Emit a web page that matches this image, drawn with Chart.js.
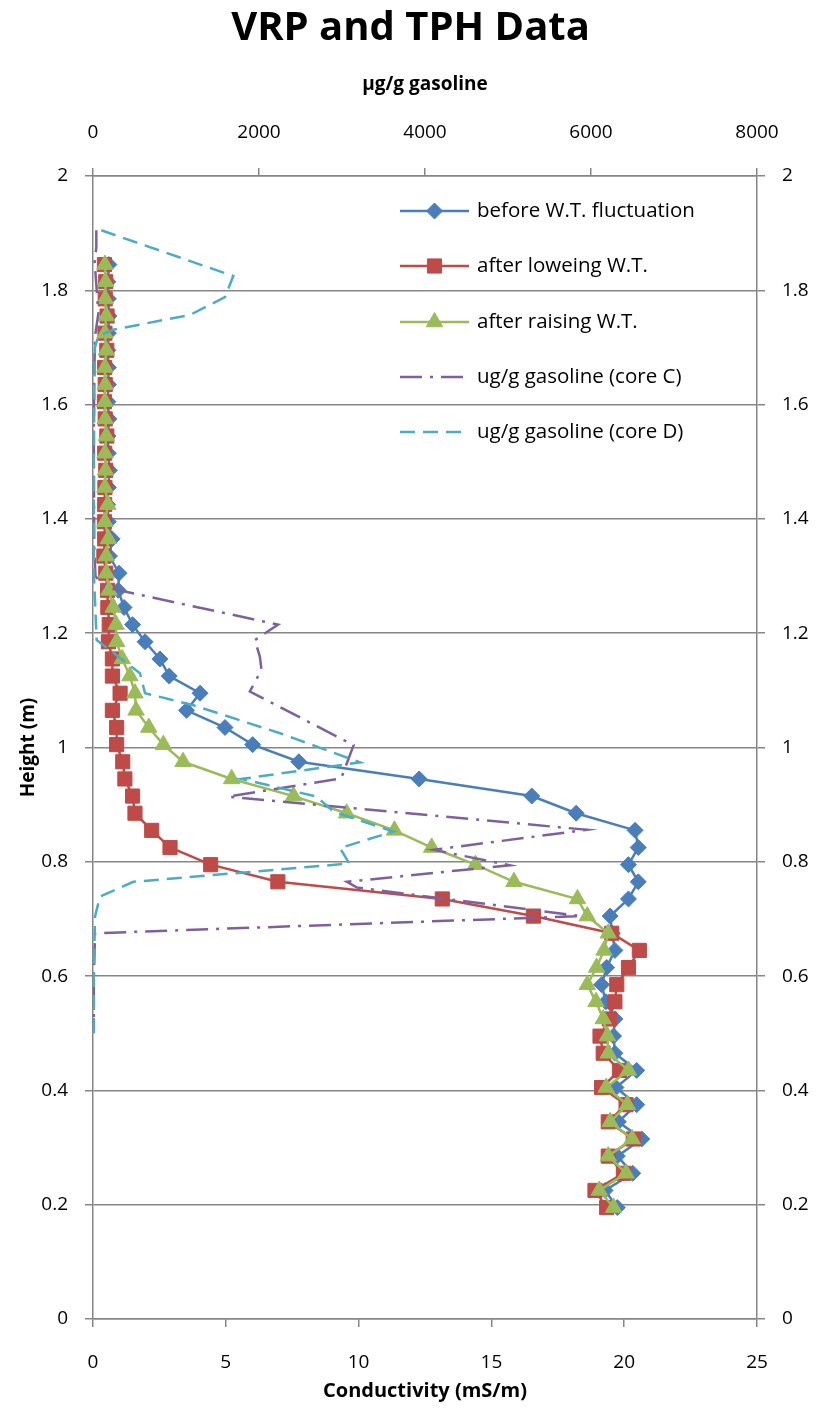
<!DOCTYPE html>
<html>
<head>
<meta charset="utf-8">
<script src="https://cdn.jsdelivr.net/npm/chart.js@4.4.1/dist/chart.umd.min.js"></script>
<style>
html,body{margin:0;padding:0;background:#fff;}
#wrap{width:821px;height:1410px;position:relative;}
canvas{display:block;}
</style>
</head>
<body>
<div id="wrap"><canvas id="c" width="821" height="1410" style="width:821px;height:1410px"></canvas></div>
<script>
// ---- data ----
const heights = [0.195,0.225,0.255,0.285,0.315,0.345,0.375,0.405,0.435,0.465,0.495,
  0.525,0.555,0.585,0.615,0.645,0.675,0.705,0.735,0.765,0.795,
  0.825,0.855,0.885,0.915,0.945,0.975,1.005,1.035,1.065,1.095,
  1.125,1.155,1.185,1.215,1.245,1.275,1.305,1.335,1.365,1.395,
  1.425,1.455,1.485,1.515,1.545,1.575,1.605,1.635,1.665,1.695,
  1.725,1.755,1.785,1.815,1.845];

const beforeFluct = [19.74,19.28,20.32,19.74,20.66,19.78,20.47,19.69,20.47,19.65,19.6,
  19.65,19.31,19.15,19.34,19.65,19.55,19.47,20.16,20.53,20.16,
  20.53,20.41,18.19,16.52,12.28,7.75,6.01,4.97,3.52,4.03,
  2.87,2.52,1.96,1.49,1.17,0.95,0.98,0.62,0.72,0.58,
  0.55,0.58,0.62,0.58,0.56,0.6,0.56,0.58,0.58,0.56,
  0.58,0.6,0.58,0.56,0.6];

const afterLowering = [19.34,18.9,19.97,19.4,20.34,19.4,20.07,19.15,19.82,19.21,19.09,
  19.44,19.65,19.72,20.16,20.57,19.53,16.58,13.15,6.96,4.43,
  2.9,2.21,1.58,1.49,1.2,1.12,0.89,0.89,0.73,1.02,
  0.73,0.73,0.58,0.61,0.56,0.55,0.48,0.41,0.44,0.43,
  0.44,0.45,0.48,0.44,0.52,0.46,0.43,0.46,0.44,0.52,
  0.45,0.53,0.46,0.48,0.43];

const afterRaising = [19.6,19.06,20.07,19.4,20.3,19.47,20.12,19.32,20.16,19.4,19.37,
  19.21,18.94,18.61,18.96,19.24,19.4,18.61,18.24,15.85,14.4,
  12.75,11.35,9.55,7.55,5.22,3.39,2.65,2.1,1.62,1.58,
  1.39,1.1,0.89,0.87,0.76,0.6,0.5,0.5,0.58,0.45,
  0.56,0.45,0.47,0.45,0.5,0.46,0.45,0.46,0.45,0.5,
  0.45,0.5,0.46,0.47,0.45];

const coreCHeight = [1.905,1.875,1.85,1.80,1.76,1.72,1.65,1.55,1.45,1.35,1.30,1.281,1.215,1.188,1.159,1.136,1.098,1.004,0.946,0.914,0.856,0.821,0.794,0.765,0.755,0.705,0.675,0.60,0.50];
const coreCValue  = [40,40,20,45,65,25,15,10,12,15,30,125,2230,1950,2010,2030,1890,3140,2990,1630,5950,4100,5020,3060,3180,5880,25,10,10];

const coreDHeight = [1.905,1.825,1.788,1.757,1.731,1.72,1.70,1.60,1.50,1.40,1.30,1.188,1.13,1.095,1.074,1.025,0.974,0.945,0.914,0.888,0.853,0.824,0.797,0.765,0.739,0.704,0.60,0.50];
const coreDValue  = [100,1690,1590,1170,245,64,24,15,10,10,12,44,566,627,1209,2253,3217,1790,2695,2896,3618,2976,3088,486,84,24,10,10];

const heightTicks = [0,0.2,0.4,0.6,0.8,1,1.2,1.4,1.6,1.8,2];
const condTicks = [0,5,10,15,20,25];
const gasTicks = [0,2000,4000,6000,8000];

const legendLabels = ['before W.T. fluctuation','after loweing W.T.','after raising W.T.','ug/g gasoline (core C)','ug/g gasoline (core D)'];

// ---- styles ----
const FONT = "'Open Sans', 'Noto Sans', sans-serif";
const GRID = '#868686';
const BLUE = '#4A7EBB', RED = '#BE4B48', GREEN = '#9BBB59', PURPLE = '#7D60A0', CYAN = '#4BACC6';
const DASH_C = [22, 8, 3, 8];
const DASH_D = [15, 8];

const pts = (xs, ys) => xs.map((v, i) => ({x: v, y: ys[i]}));

const datasets = [
  {label: legendLabels[0], data: pts(beforeFluct, heights), borderColor: BLUE, backgroundColor: BLUE,
   borderWidth: 2.5, pointStyle: 'rectRot', pointRadius: 8, pointBorderWidth: 1, showLine: true, order: 5,
   xAxisID: 'x', yAxisID: 'y'},
  {label: legendLabels[1], data: pts(afterLowering, heights), borderColor: RED, backgroundColor: RED,
   borderWidth: 2.5, pointStyle: 'rect', pointRadius: 10, pointBorderWidth: 1, showLine: true, order: 4,
   xAxisID: 'x', yAxisID: 'y'},
  {label: legendLabels[2], data: pts(afterRaising, heights), borderColor: GREEN, backgroundColor: GREEN,
   borderWidth: 2.5, pointStyle: 'triangle', pointRadius: 9.5, pointBorderWidth: 1, showLine: true, order: 3,
   xAxisID: 'x', yAxisID: 'y'},
  {label: legendLabels[3], data: pts(coreCValue, coreCHeight), borderColor: PURPLE, backgroundColor: PURPLE,
   borderWidth: 2.5, borderDash: DASH_C, pointRadius: 0, showLine: true, order: 2,
   xAxisID: 'x2', yAxisID: 'y'},
  {label: legendLabels[4], data: pts(coreDValue, coreDHeight), borderColor: CYAN, backgroundColor: CYAN,
   borderWidth: 2.5, borderDash: DASH_D, pointRadius: 0, showLine: true, order: 1,
   xAxisID: 'x2', yAxisID: 'y'}
];

Chart.defaults.color = '#000';
Chart.defaults.font.family = FONT;

const yTickCb = (v) => String(+(+v).toFixed(1));
const plainCb = (v) => String(v);

const chart = new Chart(document.getElementById('c').getContext('2d'), {
  type: 'scatter',
  data: {datasets},
  options: {
    responsive: false,
    animation: false,
    devicePixelRatio: 1,
    layout: {padding: 0},
    plugins: {
      legend: {display: false},
      tooltip: {enabled: false},
      title: {display: true, text: 'VRP and TPH Data', color: '#000',
        font: {family: FONT, size: 40, weight: 'bold', lineHeight: 1.0},
        padding: {top: 9, bottom: 15}}
    },
    scales: {
      x: {type: 'linear', position: 'bottom', min: 0, max: 25,
        afterBuildTicks: (s) => { s.ticks = condTicks.map(v => ({value: v})); },
        ticks: {font: {size: 19}, padding: 24, color: '#000', callback: plainCb},
        title: {display: true, text: 'Conductivity (mS/m)', font: {size: 20, weight: 'bold'}, padding: {top: 0, bottom: 7}, color: '#000'},
        grid: {drawOnChartArea: false, drawTicks: true, tickLength: 8, color: GRID, lineWidth: 1.5},
        border: {display: true, color: GRID, width: 1.5},
        afterFit: (s) => { s.height = 1410 - 1319; }
      },
      x2: {type: 'linear', position: 'top', min: 0, max: 8000,
        afterBuildTicks: (s) => { s.ticks = gasTicks.map(v => ({value: v})); },
        ticks: {font: {size: 19}, padding: 24, color: '#000', callback: plainCb},
        title: {display: true, text: 'µg/g gasoline', font: {size: 19, weight: 'bold'}, padding: {top: 9, bottom: 0}, color: '#000'},
        grid: {drawOnChartArea: false, drawTicks: true, tickLength: 8, color: GRID, lineWidth: 1.5},
        border: {display: true, color: GRID, width: 1.5},
        afterFit: (s) => { s.height = 176 - 64; }
      },
      y: {type: 'linear', position: 'left', min: 0, max: 2,
        afterBuildTicks: (s) => { s.ticks = heightTicks.map(v => ({value: v})); },
        ticks: {font: {size: 19}, padding: 17, color: '#000', callback: yTickCb},
        title: {display: true, text: 'Height (m)', font: {size: 19, weight: 'bold'}, padding: {top: 17, bottom: 0}, color: '#000'},
        grid: {drawOnChartArea: true, drawTicks: true, tickLength: 8, color: GRID, lineWidth: 1.5},
        border: {display: true, color: GRID, width: 1.5},
        afterFit: (s) => { s.width = 93; }
      },
      y2: {type: 'linear', position: 'right', min: 0, max: 2,
        afterBuildTicks: (s) => { s.ticks = heightTicks.map(v => ({value: v})); },
        ticks: {font: {size: 19}, padding: 17, color: '#000', callback: yTickCb},
        grid: {drawOnChartArea: false, drawTicks: true, tickLength: 8, color: GRID, lineWidth: 1.5},
        border: {display: true, color: GRID, width: 1.5},
        afterFit: (s) => { s.width = 821 - 757; }
      }
    }
  },
  plugins: [{
    id: 'insideLegend',
    afterDatasetsDraw(chart) {
      const ctx = chart.ctx;
      const x0 = 400, x1 = 469, tx = 477;
      const ys = [211, 266, 322, 377, 432];
      ctx.save();
      datasets.forEach((ds, i) => {
        const y = ys[i];
        ctx.beginPath();
        ctx.strokeStyle = ds.borderColor;
        ctx.lineWidth = 2.5;
        ctx.setLineDash(ds.borderDash || []);
        ctx.moveTo(x0, y); ctx.lineTo(x1, y); ctx.stroke();
        ctx.setLineDash([]);
        if (ds.pointRadius) {
          ctx.fillStyle = ds.backgroundColor;
          ctx.strokeStyle = ds.borderColor;
          ctx.lineWidth = 1;
          Chart.helpers.drawPoint(ctx, {pointStyle: ds.pointStyle, rotation: 0, borderWidth: 1, radius: ds.pointRadius}, (x0 + x1) / 2, y);
        }
        ctx.fillStyle = '#000';
        ctx.font = '20.5px ' + FONT;
        ctx.textBaseline = 'middle';
        ctx.textAlign = 'left';
        ctx.fillText(ds.label, tx, y);
      });
      ctx.restore();
    }
  }]
});
</script>
</body>
</html>
